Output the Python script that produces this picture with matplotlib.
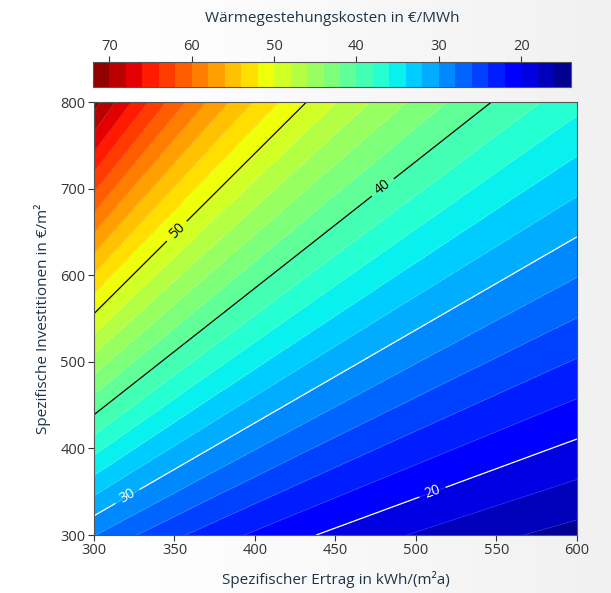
import numpy as np
import matplotlib
matplotlib.use("Agg")
import matplotlib.pyplot as plt
from matplotlib.colors import LinearSegmentedColormap

plt.rcParams['font.family'] = ['Open Sans', 'DejaVu Sans']

# --- data ---
yield_range = [300, 600]          # Spezifischer Ertrag, kWh/(m²a)
invest_range = [300, 800]         # Spezifische Investitionen, €/m²
cost_per_invest_ratio = 25.7      # €/MWh per (€/m² / kWh/(m²a))
fixed_cost = 2.4                  # €/MWh
fill_levels = list(range(14, 74, 2))
line_levels = [20, 30, 40, 50]
line_colors = ['white', 'white', 'black', 'black']
label_positions = [(510, 351), (320, 347), (480, 700), (352, 650)]
cbar_ticks = [20, 30, 40, 50, 60, 70]
x_ticks = [300, 350, 400, 450, 500, 550, 600]
y_ticks = [300, 400, 500, 600, 700, 800]

E = np.linspace(yield_range[0], yield_range[1], 301)
I = np.linspace(invest_range[0], invest_range[1], 301)
EE, II = np.meshgrid(E, I)
C = cost_per_invest_ratio * II / EE + fixed_cost

fig = plt.figure(figsize=(6.11, 5.93), dpi=100)

# background gradient
bg = fig.add_axes([0, 0, 1, 1], zorder=-10)
grad = np.linspace(0, 1, 256)
grad = np.clip((grad - 0.2) / 0.8, 0, 1)[None, :]
bg_cmap = LinearSegmentedColormap.from_list('bg', ['#ffffff', '#f1f1f1'])
bg.imshow(grad, aspect='auto', cmap=bg_cmap, extent=[0, 1, 0, 1])
bg.axis('off')

ax = fig.add_axes([0.1538, 0.0978, 0.7905, 0.730])
cf = ax.contourf(EE, II, C, levels=fill_levels, cmap='jet')
ax.contour(EE, II, C, levels=fill_levels, colors='white', linewidths=0.3, alpha=0.35)
cl = ax.contour(EE, II, C, levels=line_levels, colors=line_colors, linewidths=0.9)
ax.clabel(cl, fmt='%d', fontsize=10, manual=label_positions, inline=True, inline_spacing=6)

ax.set_xlim(*yield_range)
ax.set_ylim(*invest_range)
ax.set_xticks(x_ticks)
ax.set_yticks(y_ticks)
ax.tick_params(labelsize=10.5, colors='#333333', length=4, pad=2)
for s in ax.spines.values():
    s.set_color('#555555')
    s.set_linewidth(0.8)
ax.set_xlabel('Spezifischer Ertrag in kWh/(m²a)', fontsize=11, color='#1f3448', labelpad=9)
ax.set_ylabel('Spezifische Investitionen in €/m²', fontsize=11, color='#1f3448', labelpad=7)

cax = fig.add_axes([0.152, 0.853, 0.782, 0.042])
cb = fig.colorbar(cf, cax=cax, orientation='horizontal', ticks=cbar_ticks)
cax.invert_xaxis()
cax.xaxis.set_ticks_position('top')
cax.xaxis.set_label_position('top')
cax.tick_params(labelsize=10.5, colors='#333333', length=4, pad=2)
cb.outline.set_edgecolor('#555555')
cb.outline.set_linewidth(0.8)
cb.set_label('Wärmegestehungskosten in €/MWh', fontsize=11, color='#1f3448', labelpad=12)

fig.savefig('out.png', dpi=100)
